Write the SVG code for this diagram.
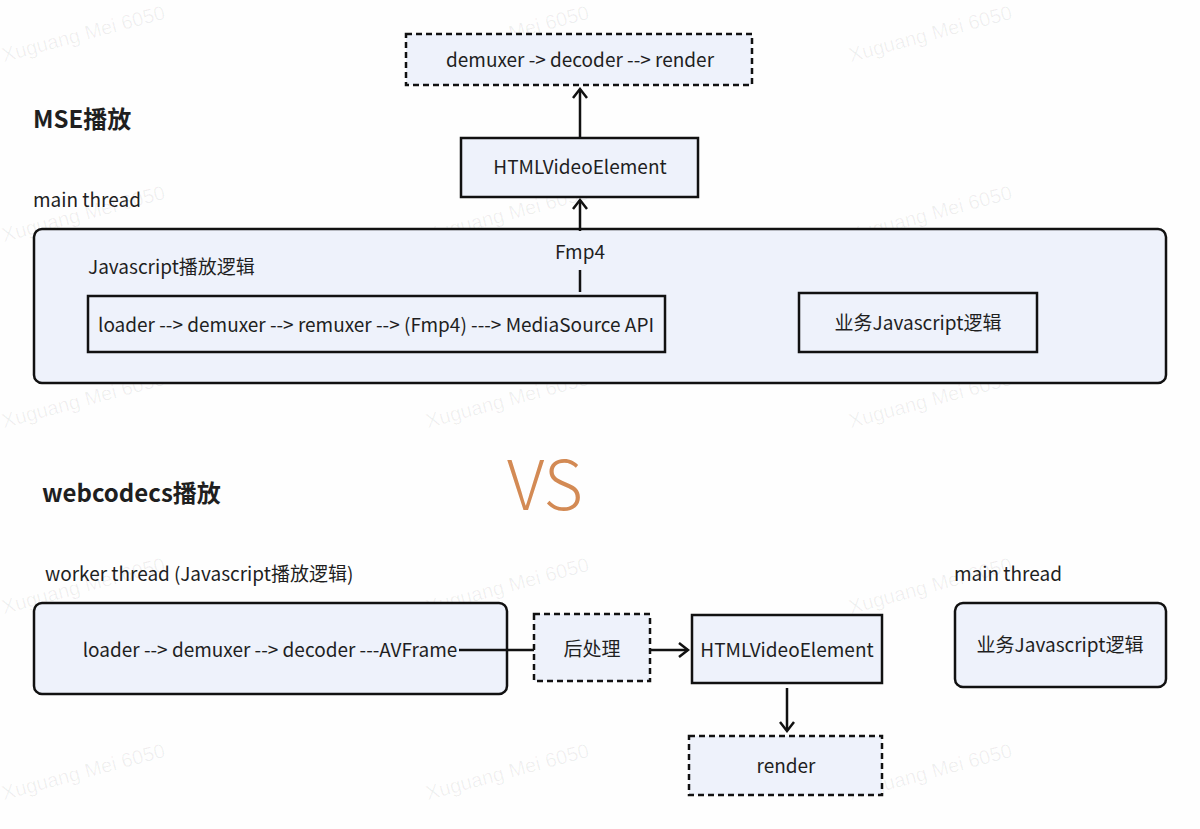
<svg xmlns="http://www.w3.org/2000/svg" width="1200" height="829" viewBox="0 0 1200 829">
<style>
text{font-family:"Noto Sans CJK SC","Noto Sans",sans-serif;fill:#1f1f1f;}
.t{font-size:19px;}
.c{text-anchor:middle;}
.h{font-size:24px;font-weight:bold;}
.box{fill:#eef2fb;stroke:#111;stroke-width:2.5;}
.dash{fill:#eef2fb;stroke:#111;stroke-width:2.5;stroke-dasharray:6 4;}
.ln{fill:none;stroke:#111;stroke-width:2.5;}
.wm{font-family:"Liberation Sans",sans-serif;font-size:20px;fill:#000;fill-opacity:0.06;}
</style>
<defs>
<marker id="arr" viewBox="0 0 12 16" refX="10" refY="8" markerWidth="12" markerHeight="16" markerUnits="userSpaceOnUse" orient="auto">
<path d="M1 1 L10 8 L1 15" fill="none" stroke="#111" stroke-width="2.5"/>
</marker>
</defs>
<rect width="1200" height="829" fill="#fefefe"/>
<g id="watermarks">
<text class="wm" transform="translate(4,62) rotate(-15)">Xuguang Mei 6050</text>
<text class="wm" transform="translate(428,62) rotate(-15)">Xuguang Mei 6050</text>
<text class="wm" transform="translate(851,62) rotate(-15)">Xuguang Mei 6050</text>
<text class="wm" transform="translate(4,242) rotate(-15)">Xuguang Mei 6050</text>
<text class="wm" transform="translate(428,242) rotate(-15)">Xuguang Mei 6050</text>
<text class="wm" transform="translate(851,242) rotate(-15)">Xuguang Mei 6050</text>
<text class="wm" transform="translate(4,428) rotate(-15)">Xuguang Mei 6050</text>
<text class="wm" transform="translate(428,428) rotate(-15)">Xuguang Mei 6050</text>
<text class="wm" transform="translate(851,428) rotate(-15)">Xuguang Mei 6050</text>
<text class="wm" transform="translate(4,614) rotate(-15)">Xuguang Mei 6050</text>
<text class="wm" transform="translate(428,614) rotate(-15)">Xuguang Mei 6050</text>
<text class="wm" transform="translate(851,614) rotate(-15)">Xuguang Mei 6050</text>
<text class="wm" transform="translate(4,800) rotate(-15)">Xuguang Mei 6050</text>
<text class="wm" transform="translate(428,800) rotate(-15)">Xuguang Mei 6050</text>
<text class="wm" transform="translate(851,800) rotate(-15)">Xuguang Mei 6050</text>
</g>
<g id="labels">
<text class="h" x="33" y="128">MSE播放</text>
<text class="t" x="33" y="207">main thread</text>
<text class="h" x="42" y="502">webcodecs播放</text>
<text class="t" x="45" y="581">worker thread (Javascript播放逻辑)</text>
<text class="t" x="954" y="581">main thread</text>
<text x="545" y="510" text-anchor="middle" style="font-size:68px;fill:#d38a54;font-weight:300;">VS</text>
</g>
<g id="mse-main">
<rect class="box" x="34" y="229" width="1132" height="154" rx="8" stroke-width="2"/>
<text class="t" x="88" y="274">Javascript播放逻辑</text>
</g>
<g id="top-render">
<rect class="dash" x="406" y="34" width="346" height="51"/>
<text class="t c" x="580" y="67">demuxer -&gt; decoder --&gt; render</text>
</g>
<g id="html-video-1">
<rect class="box" x="461" y="138" width="237" height="59"/>
<text class="t c" x="580" y="174">HTMLVideoElement</text>
</g>
<g id="mse-pipeline">
<rect class="box" x="88" y="296" width="577" height="56"/>
<text class="t c" x="376" y="332" textLength="556" lengthAdjust="spacingAndGlyphs">loader --&gt; demuxer --&gt; remuxer --&gt; (Fmp4) ---&gt; MediaSource API</text>
</g>
<g id="biz-1">
<rect class="box" x="799" y="293" width="238" height="59"/>
<text class="t c" x="918" y="330">业务Javascript逻辑</text>
</g>
<g id="worker">
<rect class="box" x="34" y="603" width="473" height="91" rx="8" stroke-width="2"/>
<text class="t c" x="270" y="657">loader --&gt; demuxer --&gt; decoder ---AVFrame</text>
</g>
<g id="postprocess">
<rect class="dash" x="534" y="614" width="116" height="67"/>
<text class="t c" x="592" y="656">后处理</text>
</g>
<g id="html-video-2">
<rect class="box" x="692" y="615" width="190" height="68"/>
<text class="t c" x="787" y="657">HTMLVideoElement</text>
</g>
<g id="render">
<rect class="dash" x="689" y="736" width="193" height="59"/>
<text class="t c" x="786" y="773">render</text>
</g>
<g id="biz-2">
<rect class="box" x="955" y="603" width="211" height="84" rx="8" stroke-width="2"/>
<text class="t c" x="1060" y="652">业务Javascript逻辑</text>
</g>
<g id="connectors">
<line class="ln" x1="580" y1="137" x2="580" y2="89" marker-end="url(#arr)"/>
<line class="ln" x1="580" y1="231" x2="580" y2="200" marker-end="url(#arr)"/>
<line class="ln" x1="580" y1="270" x2="580" y2="292"/>
<text class="t c" x="580" y="259">Fmp4</text>
<line class="ln" x1="459" y1="650" x2="534" y2="650"/>
<line class="ln" x1="650" y1="650" x2="688" y2="650" marker-end="url(#arr)"/>
<line class="ln" x1="787" y1="688" x2="787" y2="731" marker-end="url(#arr)"/>
</g>
</svg>
